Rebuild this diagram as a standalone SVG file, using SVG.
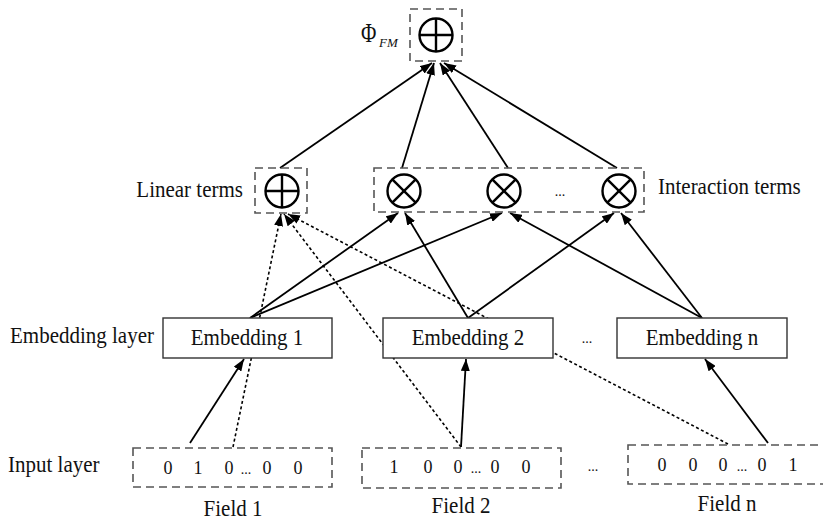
<svg xmlns="http://www.w3.org/2000/svg" width="823" height="521" viewBox="0 0 823 521">
<style>
text{font-family:"Liberation Serif","Times New Roman",serif;fill:#111;}
.lbl{font-size:21px;}
.dig{font-size:18px;text-anchor:middle;}
.dots{font-size:14px;text-anchor:middle;}
.dash{fill:none;stroke:#555;stroke-width:1.6;stroke-dasharray:8 5;}
.emb{fill:#fff;stroke:#333;stroke-width:1.4;}
.op{fill:#fff;stroke:#000;stroke-width:2.4;}
.opl{stroke:#000;stroke-width:2.4;}
.solid{stroke:#000;stroke-width:1.8;fill:none;marker-end:url(#arr);}
.dotted{stroke:#000;stroke-width:1.6;fill:none;stroke-dasharray:3 2.5;marker-end:url(#arr);}
</style>
<defs>
<marker id="arr" markerUnits="userSpaceOnUse" markerWidth="12" markerHeight="9" refX="12" refY="4.5" orient="auto">
<path d="M0,0 L12,4.5 L0,9 z" fill="#000"/>
</marker>
</defs>
<rect width="823" height="521" fill="#fff"/>

<g id="connectors">
<path class="solid" d="M280,168 L432,63"/>
<path class="solid" d="M402,168 L434,63"/>
<path class="solid" d="M508,168 L440,63"/>
<path class="solid" d="M617,168 L444,63"/>
<path class="dotted" d="M233,447 L281,214"/>
<path class="dotted" d="M461,447 L284,214"/>
<path class="dotted" d="M728,444 L288,214"/>
<path class="solid" d="M250,318 L398,213"/>
<path class="solid" d="M250,318 L502,213"/>
<path class="solid" d="M468,318 L405,213"/>
<path class="solid" d="M468,318 L614,213"/>
<path class="solid" d="M702,318 L510,213"/>
<path class="solid" d="M702,318 L621,213"/>
<path class="solid" d="M190,443 L244,359"/>
<path class="solid" d="M461,447 L466,359"/>
<path class="solid" d="M768,443 L705,359"/>
</g>

<g id="phi_fm">
<rect class="dash" x="410" y="9" width="52" height="52"/>
<circle class="op" cx="436" cy="35" r="16.5"/>
<line class="opl" x1="419.5" y1="35" x2="452.5" y2="35"/>
<line class="opl" x1="436" y1="18.5" x2="436" y2="51.5"/>
<text class="lbl" transform="translate(361 42) scale(1 1.25)">Φ</text>
<text x="379" y="47" font-size="13" font-style="italic">FM</text>
</g>

<g id="linear_terms">
<rect class="dash" x="255" y="168" width="52" height="45"/>
<circle class="op" cx="282" cy="191" r="16.5"/>
<line class="opl" x1="265.5" y1="191" x2="298.5" y2="191"/>
<line class="opl" x1="282" y1="174.5" x2="282" y2="207.5"/>
<text class="lbl" transform="translate(243 197) scale(1 1.08)" text-anchor="end">Linear terms</text>
</g>

<g id="interaction_terms">
<rect class="dash" x="374" y="168" width="270" height="44"/>
<circle class="op" cx="404" cy="191" r="16.5"/>
<line class="opl" x1="392.3" y1="179.3" x2="415.7" y2="202.7"/>
<line class="opl" x1="415.7" y1="179.3" x2="392.3" y2="202.7"/>
<circle class="op" cx="504" cy="191" r="16.5"/>
<line class="opl" x1="492.3" y1="179.3" x2="515.7" y2="202.7"/>
<line class="opl" x1="515.7" y1="179.3" x2="492.3" y2="202.7"/>
<circle class="op" cx="619" cy="191" r="16.5"/>
<line class="opl" x1="607.3" y1="179.3" x2="630.7" y2="202.7"/>
<line class="opl" x1="630.7" y1="179.3" x2="607.3" y2="202.7"/>
<text class="dots" x="560" y="196">...</text>
<text class="lbl" transform="translate(658 194) scale(1 1.08)">Interaction terms</text>
</g>

<g id="embedding_layer">
<text class="lbl" transform="translate(10 343) scale(1 1.08)">Embedding layer</text>
<text class="dots" x="587" y="343">...</text>
</g>
<g id="embedding_1">
<rect class="emb" x="163" y="318" width="169" height="40"/>
<text class="lbl" transform="translate(247 345) scale(1 1.08)" text-anchor="middle">Embedding 1</text>
</g>
<g id="embedding_2">
<rect class="emb" x="383" y="318" width="170" height="40"/>
<text class="lbl" transform="translate(468 345) scale(1 1.08)" text-anchor="middle">Embedding 2</text>
</g>
<g id="embedding_n">
<rect class="emb" x="617" y="318" width="170" height="40"/>
<text class="lbl" transform="translate(702 345) scale(1 1.08)" text-anchor="middle">Embedding n</text>
</g>

<g id="input_layer">
<text class="lbl" transform="translate(8 472) scale(1 1.08)">Input layer</text>
<text class="dots" x="593" y="471">...</text>
</g>
<g id="field_1">
<rect class="dash" x="133" y="448" width="199" height="39"/>
<text class="dig" x="168" y="474">0</text>
<text class="dig" x="198" y="474">1</text>
<text class="dig" x="229" y="474">0</text>
<text class="dots" x="246" y="474">...</text>
<text class="dig" x="267" y="474">0</text>
<text class="dig" x="298" y="474">0</text>
<text class="lbl" transform="translate(233 516) scale(1 1.08)" text-anchor="middle">Field 1</text>
</g>
<g id="field_2">
<rect class="dash" x="362" y="448" width="199" height="40"/>
<text class="dig" x="394" y="473">1</text>
<text class="dig" x="428" y="473">0</text>
<text class="dig" x="458" y="473">0</text>
<text class="dots" x="476" y="473">...</text>
<text class="dig" x="495" y="473">0</text>
<text class="dig" x="526" y="473">0</text>
<text class="lbl" transform="translate(461 513) scale(1 1.08)" text-anchor="middle">Field 2</text>
</g>
<g id="field_n">
<rect class="dash" x="628" y="445" width="204" height="39"/>
<text class="dig" x="662" y="471">0</text>
<text class="dig" x="693" y="471">0</text>
<text class="dig" x="723" y="471">0</text>
<text class="dots" x="742" y="471">...</text>
<text class="dig" x="762" y="471">0</text>
<text class="dig" x="793" y="471">1</text>
<text class="lbl" transform="translate(727 511) scale(1 1.08)" text-anchor="middle">Field n</text>
</g>
</svg>
